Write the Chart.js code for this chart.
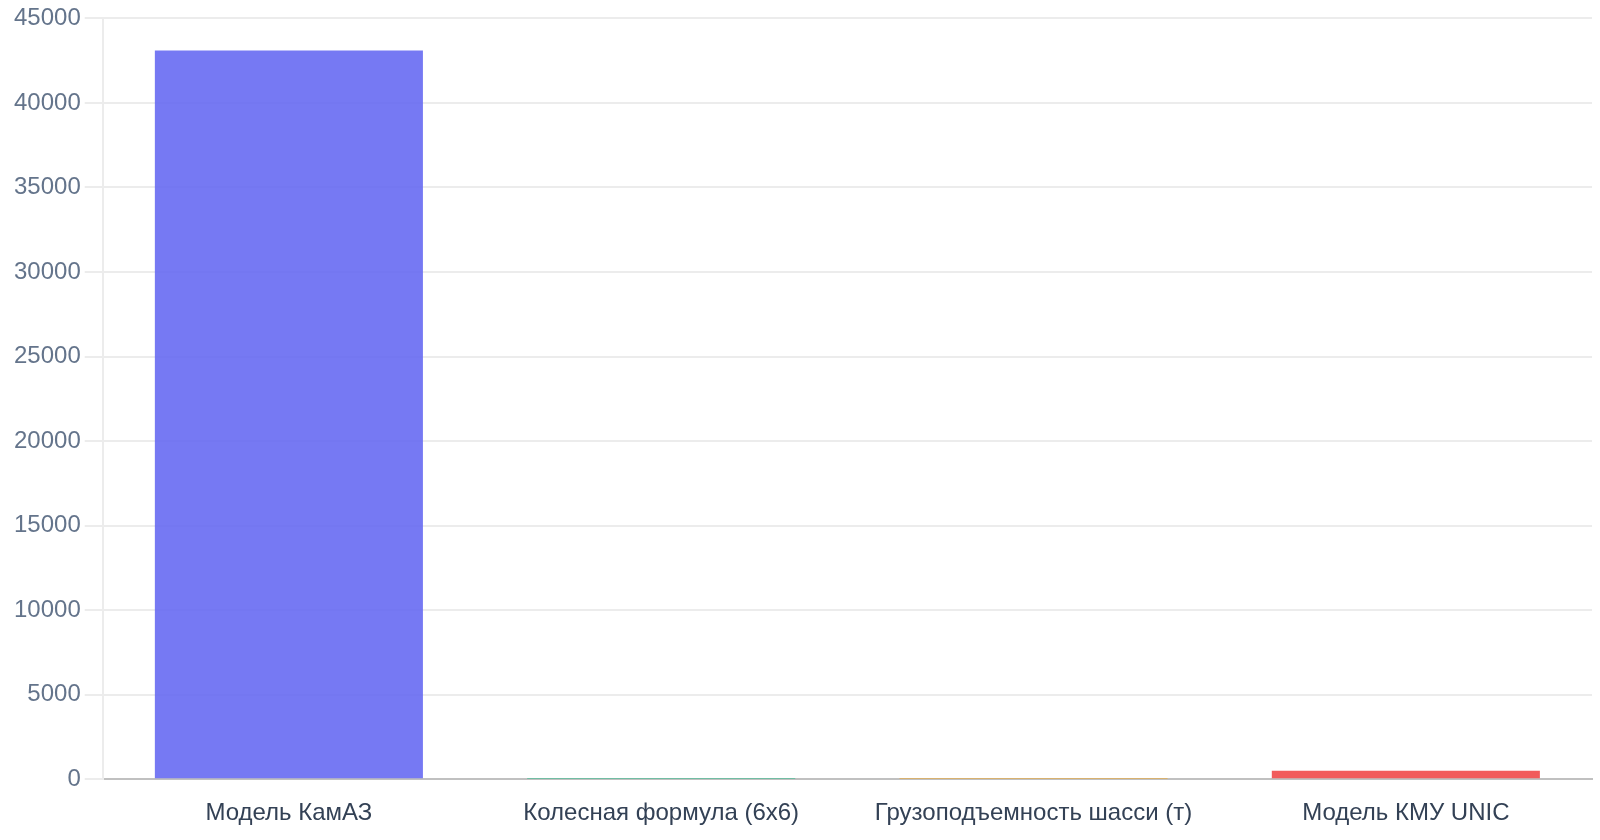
<!DOCTYPE html>
<html>
<head>
<meta charset="utf-8">
<script src="https://cdn.jsdelivr.net/npm/chart.js@4"></script>
<style>
  html, body { margin: 0; padding: 0; background: #fff; }
  #wrap { width: 1600px; height: 840px; }
</style>
</head>
<body>
<div id="wrap"><canvas id="kamazChart"></canvas></div>
<script>
// categories and values
let categories = ['Модель КамАЗ', 'Колесная формула (6x6)', 'Грузоподъемность шасси (т)', 'Модель КМУ UNIC'];
let values = [43100, 6, 15, 500];
let barColors = ['rgba(99, 102, 241, 0.88)', 'rgba(16, 185, 129, 0.6)', 'rgba(245, 158, 11, 0.6)', 'rgba(239, 68, 68, 0.88)'];

Chart.defaults.font.family = '"Liberation Sans", Arial, sans-serif';
Chart.defaults.font.size = 24;

let ctx = document.getElementById('kamazChart').getContext('2d');
new Chart(ctx, {
    type: 'bar',
    data: {
        labels: categories,
        datasets: [
            {
                label: 'Значение',
                data: values,
                backgroundColor: barColors,
                borderWidth: 0
            }
        ]
    },
    options: {
        responsive: true,
        maintainAspectRatio: false,
        animation: false,
        layout: { padding: { top: -3, right: 8, left: 10, bottom: 0 } },
        plugins: {
            legend: { display: false },
            tooltip: { enabled: false }
        },
        scales: {
            x: {
                grid: { display: false },
                border: { color: '#c0c0c0', width: 2 },
                ticks: { color: '#334155', padding: 12 }
            },
            y: {
                min: 0,
                max: 45000,
                ticks: {
                    stepSize: 5000,
                    color: '#64748b',
                    padding: 4,
                    callback: function (v) { return String(v); }
                },
                grid: { color: '#ececec', lineWidth: 2, tickLength: 18 },
                border: { color: '#ececec', width: 2 }
            }
        }
    }
});
</script>
</body>
</html>
